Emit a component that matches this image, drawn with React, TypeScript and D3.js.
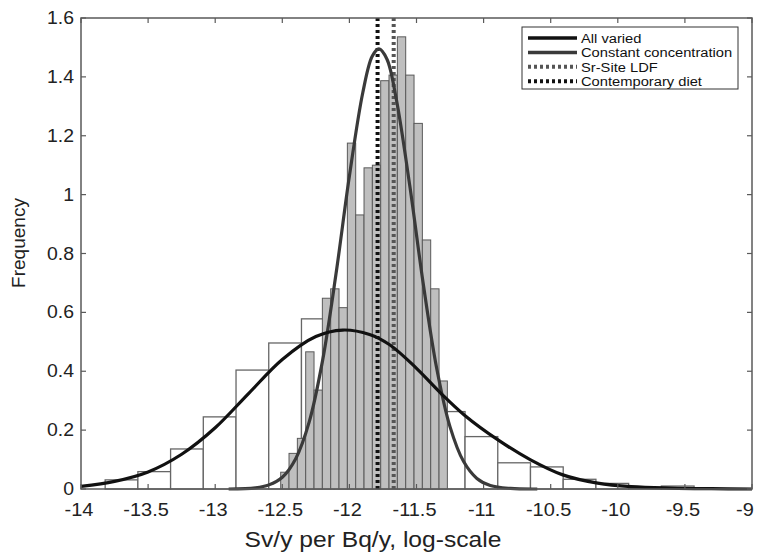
import React from 'react';
import * as d3 from 'd3';

// wide-bin histogram ("All varied"), bins start at -13.82
const allVariedBinStart = -13.82;
const allVariedBinWidth = 0.2438;
const allVariedFreq = [0.031, 0.059, 0.136, 0.245, 0.404, 0.496, 0.578, 0.56, 0.5, 0.4,
  0.263, 0.178, 0.089, 0.075, 0.033, 0.019, 0.004, 0.01];

// narrow-bin histogram ("Constant concentration")
const constBinStart = -12.512;
const constBinWidth = 0.0621;
const constFreq = [0.057, 0.121, 0.172, 0.466, 0.336, 0.648, 0.68, 0.616, 1.175, 0.931,
  1.091, 1.1, 1.387, 1.406, 1.536, 1.406, 1.242, 0.846, 0.68, 0.367];

// fitted curves
const allVariedCurve: [number, number][] = [
  [-14, 0.009], [-13.75, 0.026], [-13.5, 0.058], [-13.25, 0.118], [-13, 0.208],
  [-12.75, 0.325], [-12.5, 0.44], [-12.25, 0.518], [-12.05, 0.54], [-11.85, 0.525],
  [-11.7, 0.49], [-11.5, 0.41], [-11.32, 0.326], [-11.14, 0.25], [-10.89, 0.166],
  [-10.65, 0.099], [-10.41, 0.048], [-10.15, 0.02], [-9.9, 0.008], [-9.6, 0.003],
  [-9.3, 0.001], [-9, 0],
];
const constCurve: [number, number][] = [
  [-12.9, 0], [-12.7, 0.004], [-12.6, 0.014], [-12.5, 0.04], [-12.4, 0.103],
  [-12.3, 0.227], [-12.2, 0.436], [-12.1, 0.73], [-12.0, 1.063], [-11.9, 1.347],
  [-11.83, 1.47], [-11.78, 1.495], [-11.72, 1.46], [-11.65, 1.323], [-11.55, 1.03],
  [-11.45, 0.698], [-11.35, 0.411], [-11.25, 0.211], [-11.15, 0.094], [-11.05, 0.036],
  [-10.95, 0.012], [-10.8, 0.002], [-10.6, 0],
];

const srSiteLDF = -11.67;
const contemporaryDiet = -11.79;

const xTicks = [-14, -13.5, -13, -12.5, -12, -11.5, -11, -10.5, -10, -9.5, -9];
const yTicks = [0, 0.2, 0.4, 0.6, 0.8, 1, 1.2, 1.4, 1.6];

const legendItems = [
  { label: 'All varied', color: '#111', dash: null },
  { label: 'Constant concentration', color: '#3a3a3a', dash: null },
  { label: 'Sr-Site LDF', color: '#555', dash: '3,3' },
  { label: 'Contemporary diet', color: '#111', dash: '3,3' },
];

const font = '"Liberation Sans", Arial, sans-serif';

export default function App() {
  const left = 81, right = 752, top = 18, bottom = 489;
  const x = d3.scaleLinear().domain([-14, -9]).range([left, right]);
  const y = d3.scaleLinear().domain([0, 1.6]).range([bottom, top]);

  const line = d3.line<[number, number]>()
    .x(d => x(d[0]))
    .y(d => y(d[1]))
    .curve(d3.curveCatmullRom.alpha(0.5));

  const axisColor = '#5a5a5a';
  const tickLen = 5;

  return (
    <svg width={757} height={552} style={{ position: 'absolute', left: 0, top: 0, background: '#fff' }}
      fontFamily={font}>
      {/* white bars */}
      {allVariedFreq.map((v, i) => {
        const x0 = allVariedBinStart + i * allVariedBinWidth;
        return <rect key={'w' + i} x={x(x0)} y={y(v)} width={x(x0 + allVariedBinWidth) - x(x0)}
          height={y(0) - y(v)} fill="#fff" stroke="#666" strokeWidth={1.3} />;
      })}
      {/* grey bars */}
      {constFreq.map((v, i) => {
        const x0 = constBinStart + i * constBinWidth;
        return <rect key={'g' + i} x={x(x0)} y={y(v)} width={x(x0 + constBinWidth) - x(x0)}
          height={y(0) - y(v)} fill="#bfbfbf" stroke="#5a5a5a" strokeWidth={1} />;
      })}
      {/* vertical reference lines */}
      <line x1={x(contemporaryDiet)} x2={x(contemporaryDiet)} y1={y(0)} y2={y(1.6)}
        stroke="#111" strokeWidth={4} strokeDasharray="3,3" />
      <line x1={x(srSiteLDF)} x2={x(srSiteLDF)} y1={y(0)} y2={y(1.6)}
        stroke="#555" strokeWidth={4} strokeDasharray="3,3" />
      {/* curves */}
      <path d={line(constCurve) || ''} fill="none" stroke="#3a3a3a" strokeWidth={3.2} />
      <path d={line(allVariedCurve) || ''} fill="none" stroke="#111" strokeWidth={3.2} />

      {/* axes box */}
      <rect x={left} y={top} width={right - left} height={bottom - top} fill="none"
        stroke={axisColor} strokeWidth={1.5} />
      {xTicks.map(t => (
        <g key={'xt' + t}>
          <line x1={x(t)} x2={x(t)} y1={bottom} y2={bottom - tickLen} stroke={axisColor} strokeWidth={1.2} />
          <line x1={x(t)} x2={x(t)} y1={top} y2={top + tickLen} stroke={axisColor} strokeWidth={1.2} />
          <text transform={`translate(${Math.min(x(t) - 2, 745)},${bottom + 27}) scale(1.08,1)`}
            textAnchor="middle" fontSize={18.5} fill="#222">{t}</text>
        </g>
      ))}
      {yTicks.map(t => (
        <g key={'yt' + t}>
          <line x1={left} x2={left + tickLen} y1={y(t)} y2={y(t)} stroke={axisColor} strokeWidth={1.2} />
          <line x1={right} x2={right - tickLen} y1={y(t)} y2={y(t)} stroke={axisColor} strokeWidth={1.2} />
          <text transform={`translate(${left - 7},${y(t) + 6}) scale(1.05,1)`} textAnchor="end"
            fontSize={18.5} fill="#222">{t}</text>
        </g>
      ))}
      <text transform="translate(373,547) scale(1.12,1)" textAnchor="middle" fontSize={22} fill="#222">
        Sv/y per Bq/y, log-scale
      </text>
      <text transform={`translate(25,${243}) rotate(-90)`} textAnchor="middle" fontSize={19} fill="#222">Frequency</text>

      {/* legend */}
      <rect x={522} y={27} width={216} height={62} fill="#fff" stroke="#333" strokeWidth={1} />
      {legendItems.map((d, i) => {
        const ly = 38 + i * 14.4;
        return (
          <g key={d.label}>
            <line x1={528} x2={577} y1={ly} y2={ly} stroke={d.color} strokeWidth={d.dash ? 4 : 3.5}
              strokeDasharray={d.dash || undefined} />
            <text transform={`translate(581,${ly + 5}) scale(1.09,1)`} fontSize={13.5} fill="#111">{d.label}</text>
          </g>
        );
      })}
    </svg>
  );
}
